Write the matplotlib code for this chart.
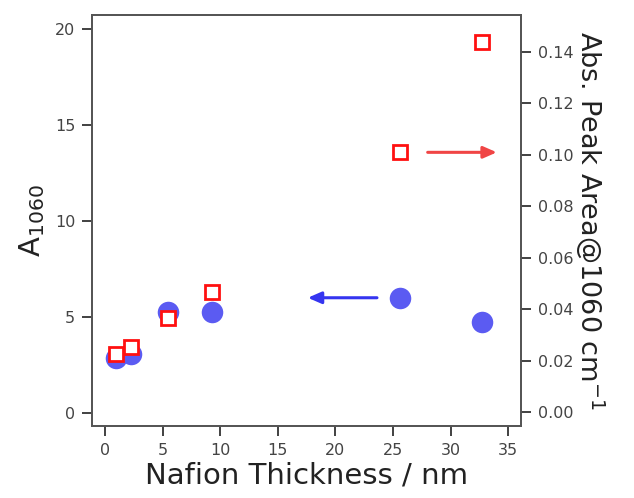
import matplotlib
matplotlib.use('Agg')
import matplotlib.pyplot as plt

# Espesor de Nafion (nm) y valores medidos
espesor = [0.95, 2.25, 5.5, 9.3, 25.6, 32.7]
a1060 = [2.86, 3.07, 5.26, 5.26, 5.99, 4.74]
area_pico = [0.0226, 0.0253, 0.0366, 0.0467, 0.1011, 0.1439]

plt.rcParams['font.family'] = 'DejaVu Sans'
plt.rcParams['mathtext.default'] = 'regular'

gris = '#555555'
azul = '#5b5bf2'
rojo = '#ff1010'

fig = plt.figure(figsize=(6.34, 4.98), dpi=100)
ax = fig.add_axes([0.1451, 0.1446, 0.6767, 0.8253])
ax2 = ax.twinx()

ax.plot(espesor, a1060, 'o', color=azul, ms=15.5, mew=0)
ax2.plot(espesor, area_pico, 's', mfc='white', mec=rojo, mew=2.0, ms=9.5)

# flechas que indican a que eje corresponde cada serie
ax.annotate('', xy=(17.6, 6.0), xytext=(23.6, 6.0),
            arrowprops=dict(arrowstyle='-|>,head_length=0.8,head_width=0.35',
                            color='#3535f0', lw=2.2, shrinkA=0, shrinkB=0))
ax2.annotate('', xy=(34.0, 0.101), xytext=(28.0, 0.101),
             arrowprops=dict(arrowstyle='-|>,head_length=0.8,head_width=0.35',
                             color='#f04545', lw=2.2, shrinkA=0, shrinkB=0))

ax.set_xlim(-1.13, 36.1)
ax.set_ylim(-0.68, 20.73)
ax2.set_ylim(-0.0054, 0.1544)
ax.set_xticks(range(0, 36, 5))
ax.set_yticks(range(0, 21, 5))
ax2.set_yticks([0.00, 0.02, 0.04, 0.06, 0.08, 0.10, 0.12, 0.14])
ax2.set_yticklabels([f'{v:.2f}' for v in ax2.get_yticks()])

for a in (ax, ax2):
    for s in a.spines.values():
        s.set_color(gris)
        s.set_linewidth(1.3)
    a.tick_params(direction='out', length=7, width=1.3, color='#333333',
                  labelsize=11.5, labelcolor='#444444', pad=5)

ax.set_xlabel('Nafion Thickness / nm', fontsize=21, color='#222222', labelpad=3)
ax.set_ylabel('A$_{1060}$', fontsize=21, color='#222222', labelpad=6)
ax2.set_ylabel('Abs. Peak Area@1060 cm$^{-1}$', fontsize=19.5, color='#222222',
               rotation=270, labelpad=24)

plt.savefig('out.png', dpi=100)
plt.close(fig)
